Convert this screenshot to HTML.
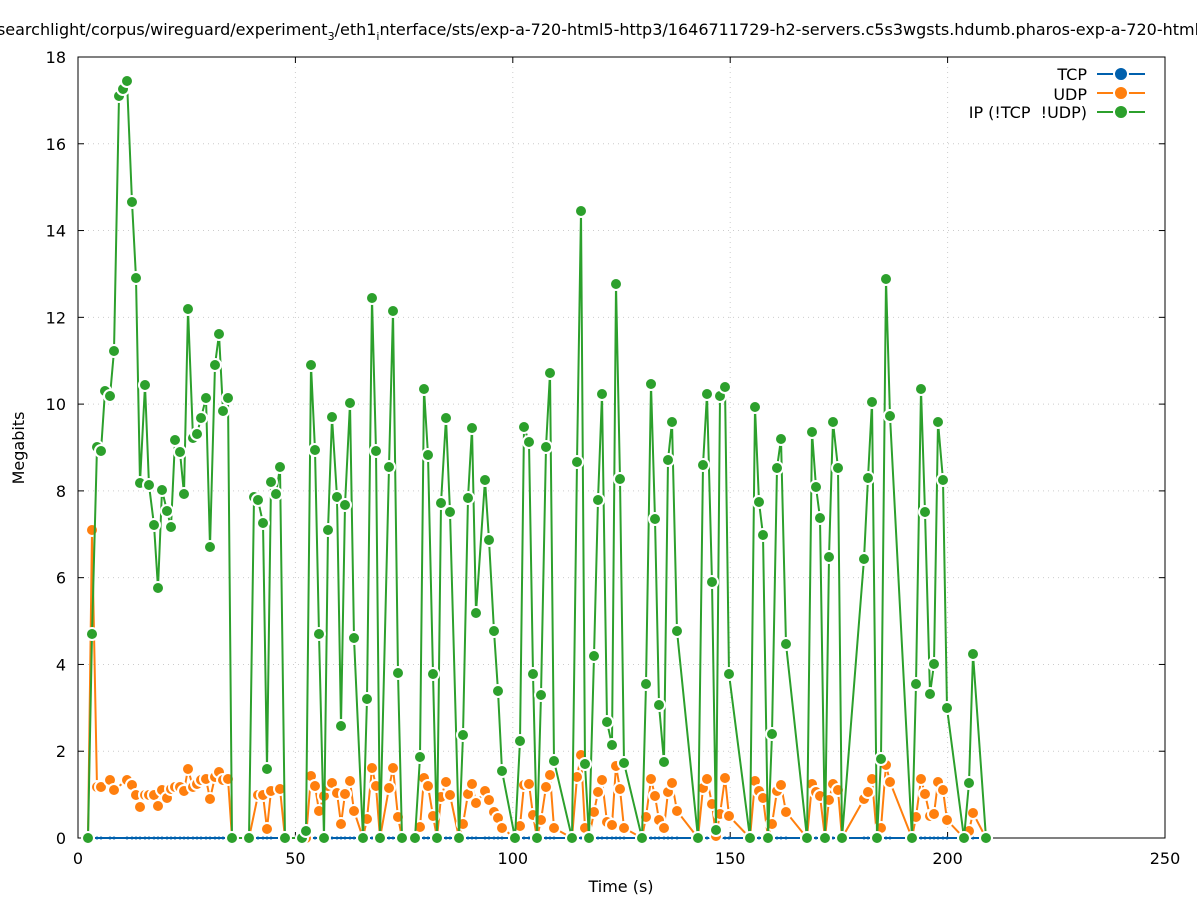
<!DOCTYPE html>
<html><head><meta charset="utf-8"><style>
body{margin:0;background:#fff}
svg{display:block;font-family:"DejaVu Sans","Liberation Sans",sans-serif}
</style></head><body>
<svg id="s" width="1197" height="900" viewBox="0 0 1197 900" xmlns="http://www.w3.org/2000/svg">
<rect width="1197" height="900" fill="#fff"/>
<g id="grid" stroke="#ccc" stroke-width="1" stroke-dasharray="1,4"></g>
<rect x="78" y="57" width="1087" height="781" fill="none" stroke="#000" stroke-width="1"/>
<g id="ticks" stroke="#000" stroke-width="1"></g>
<g id="labels" font-size="16" fill="#000"></g>
<text x="598" y="35" font-size="16" text-anchor="middle">searchlight/corpus/wireguard/experiment<tspan font-size="11" dy="5">3</tspan><tspan dy="-5">/eth1</tspan><tspan font-size="11" dy="5">i</tspan><tspan dy="-5">nterface/sts/exp-a-720-html5-http3/1646711729-h2-servers.c5s3wgsts.hdumb.pharos-exp-a-720-html</tspan></text>
<text x="621" y="892" font-size="16" text-anchor="middle">Time (s)</text>
<text transform="translate(24,448) rotate(-90)" font-size="16" text-anchor="middle">Megabits</text>
<g font-size="16" text-anchor="end">
<text x="1087" y="80">TCP</text>
<text x="1087" y="100">UDP</text>
<text x="1087" y="118" xml:space="preserve">IP (!TCP  !UDP)</text>
</g>
<g stroke-width="2">
<line x1="1097" y1="74" x2="1145" y2="74" stroke="#0060ad"/><circle cx="1121" cy="74" r="7" fill="#0060ad" stroke="#fff"/>
<line x1="1097" y1="93" x2="1145" y2="93" stroke="#ff7f0e"/><circle cx="1121" cy="93" r="7" fill="#ff7f0e" stroke="#fff"/>
<line x1="1097" y1="112" x2="1145" y2="112" stroke="#2ca02c"/><circle cx="1121" cy="112" r="7" fill="#2ca02c" stroke="#fff"/>
</g>
<g id="series"></g>
</svg>
<script>
var NS="http://www.w3.org/2000/svg";
function el(p,t,a){var e=document.createElementNS(NS,t);for(var k in a)e.setAttribute(k,a[k]);p.appendChild(e);return e;}
var grid=document.getElementById('grid'),ticks=document.getElementById('ticks'),labels=document.getElementById('labels');
for(var i=0;i<=9;i++){var y=838-i*2*43.389;
 if(i>0&&i<9)el(grid,'line',{x1:78,x2:1165,y1:y,y2:y});
 el(ticks,'line',{x1:78,x2:84,y1:y,y2:y});el(ticks,'line',{x1:1165,x2:1159,y1:y,y2:y});
 var t=el(labels,'text',{x:66,y:y+6,'text-anchor':'end'});t.textContent=i*2;}
for(var i=0;i<=5;i++){var x=78+i*217.4;
 if(i>0&&i<5)el(grid,'line',{x1:x,x2:x,y1:57,y2:838});
 el(ticks,'line',{x1:x,x2:x,y1:838,y2:832});el(ticks,'line',{x1:x,x2:x,y1:57,y2:63});
 var t=el(labels,'text',{x:x,y:864,'text-anchor':'middle'});t.textContent=i*50;}
var G=[88,838,92,634,97,447,101,451,105,391,110,396,114,351,119,96,123,89,127,81,132,202,136,278,140,483,145,385,149,485,154,525,158,588,162,490,167,511,171,527,175,440,180,452,184,494,188,309,193,438,197,434,201,418,206,398,210,547,215,365,219,334,223,411,228,398,232,838,249,838,254,497,258,500,263,523,267,769,271,482,276,494,280,467,285,838,302,838,306,831,311,365,315,450,319,634,324,838,328,530,332,417,337,497,341,726,345,505,350,403,354,638,363,838,367,699,372,298,376,451,380,838,389,467,393,311,398,673,402,838,415,838,420,757,424,389,428,455,433,674,437,838,441,503,446,418,450,512,459,838,463,735,468,498,472,428,476,613,485,480,489,540,494,631,498,691,502,771,515,838,520,741,524,427,529,442,533,674,537,838,541,695,546,447,550,373,554,761,572,838,577,462,581,211,585,764,589,838,594,656,598,500,602,394,607,722,612,745,616,284,620,479,624,763,642,838,646,684,651,384,655,519,659,705,664,762,668,460,672,422,677,631,698,838,703,465,707,394,712,582,716,830,720,396,725,387,729,674,750,838,755,407,759,502,763,535,768,838,772,734,777,468,781,439,786,644,807,838,812,432,816,487,820,518,825,838,829,557,833,422,838,468,842,838,864,559,868,478,872,402,877,838,881,759,886,279,890,416,912,838,916,684,921,389,925,512,930,694,934,664,938,422,943,480,947,708,964,838,969,783,973,654,986,838];
var O=[88,838,92,530,97,787,101,787,110,780,114,790,127,780,132,785,136,795,140,807,145,795,149,795,154,795,158,806,162,790,167,798,171,789,175,787,180,787,184,791,188,769,193,787,197,784,201,780,206,779,210,799,215,777,219,772,223,780,228,779,232,838,249,838,258,795,263,795,267,829,271,791,280,789,285,838,306,838,311,776,315,786,319,811,324,796,328,786,332,783,337,793,341,824,345,794,350,781,354,811,363,838,367,819,372,768,376,786,380,838,389,788,393,768,398,817,402,838,415,838,420,827,424,778,428,786,433,816,437,838,441,797,446,782,450,795,459,838,463,824,468,794,472,784,476,803,485,791,489,800,494,812,498,818,502,828,515,838,520,826,524,785,529,784,533,815,537,838,541,820,546,787,550,775,554,828,572,838,577,777,581,755,585,828,589,838,594,812,598,792,602,780,607,822,612,825,616,766,620,789,624,828,642,838,646,817,651,779,655,796,659,820,664,828,668,792,672,783,677,811,698,838,703,788,707,779,712,804,716,836,720,814,725,778,729,816,750,838,755,781,759,791,763,798,768,838,772,824,777,791,781,785,786,812,807,838,812,784,816,792,820,796,825,838,829,800,833,784,838,790,842,838,864,799,868,792,872,779,877,838,881,828,886,765,890,782,912,838,916,817,921,779,925,794,930,816,934,814,938,782,943,790,947,820,964,838,969,831,973,813,986,838];
var S=document.getElementById('series');
function draw(a,c,r,sw){var p='';for(var i=0;i<a.length;i+=2)p+=(i?'L':'M')+a[i]+','+a[i+1];
 el(S,'path',{d:p,fill:'none',stroke:c,'stroke-width':2});
 for(var i=0;i<a.length;i+=2)el(S,'circle',{cx:a[i],cy:a[i+1],r:r,fill:c,stroke:'#fff','stroke-width':sw});}
var B=[];for(var i=0;i<O.length;i+=2)B.push(O[i],838);
draw(B,'#0060ad',1.5,0);draw(O,'#ff7f0e',6,2);draw(G,'#2ca02c',6,2);
</script>
</body></html>
